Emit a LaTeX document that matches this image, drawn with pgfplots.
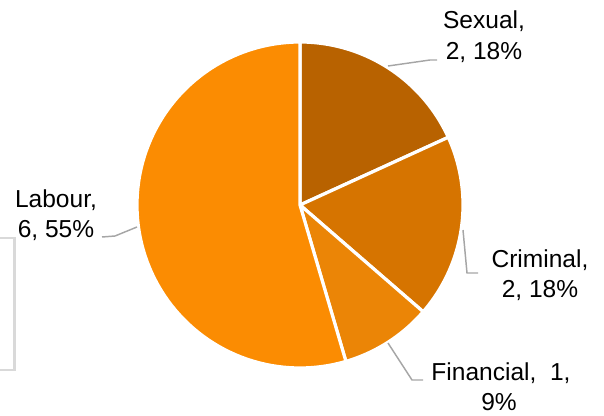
\documentclass[border=0pt]{standalone}
\usepackage{pgfplots}
\pgfplotsset{compat=1.18}
\usepackage{fontspec}
\setmainfont{Liberation Sans}
\definecolor{cSex}{HTML}{B86200}
\definecolor{cCri}{HTML}{D67400}
\definecolor{cFin}{HTML}{EB8506}
\definecolor{cLab}{HTML}{FB8C02}
\definecolor{lead}{HTML}{A6A6A6}
% data: category values
\def\vSex{2}\def\vCri{2}\def\vFin{1}\def\vLab{6}
\pgfmathsetmacro\tot{\vSex+\vCri+\vFin+\vLab}
\pgfmathsetmacro\aA{90}
\pgfmathsetmacro\aB{\aA-360*\vSex/\tot}
\pgfmathsetmacro\aC{\aB-360*\vCri/\tot}
\pgfmathsetmacro\aD{\aC-360*\vFin/\tot}
\pgfmathsetmacro\aE{\aD-360*\vLab/\tot}
\begin{document}
\begin{tikzpicture}
\begin{axis}[
  scale only axis, width=453pt, height=311.25pt,
  xmin=0, xmax=604, ymin=0, ymax=415,
  hide axis, clip=true,
]
\pgfplotsset{every axis plot/.append style={draw=white, line width=2.4pt, line join=round, samples=90}}
\addplot[fill=cSex, domain=\aB:\aA] ({300+163*cos(x)},{210+163*sin(x)}) -- (axis cs:300,210) -- cycle;
\addplot[fill=cCri, domain=\aC:\aB] ({300+163*cos(x)},{210+163*sin(x)}) -- (axis cs:300,210) -- cycle;
\addplot[fill=cFin, domain=\aD:\aC] ({300+163*cos(x)},{210+163*sin(x)}) -- (axis cs:300,210) -- cycle;
\addplot[fill=cLab, domain=\aE:\aD] ({300+163*cos(x)},{210+163*sin(x)}) -- (axis cs:300,210) -- cycle;
% leader lines
\draw[lead, line width=1.1pt] (axis cs:388,349) -- (axis cs:430,355) -- (axis cs:437,355);
\draw[lead, line width=1.1pt] (axis cs:463,185) -- (axis cs:467,142) -- (axis cs:478,142);
\draw[lead, line width=1.1pt] (axis cs:388,72) -- (axis cs:412,35) -- (axis cs:423,35);
\draw[lead, line width=1.1pt] (axis cs:102,178) -- (axis cs:115,179) -- (axis cs:137,188);
% partial legend box
\draw[color={rgb,255:red,217;green,217;blue,217}, line width=1.9pt] (axis cs:0,177) -- (axis cs:14.5,177) -- (axis cs:14.5,45) -- (axis cs:0,45);
% labels
\tikzset{lab/.style={anchor=base, inner sep=0pt, font=\fontsize{18.4}{22}\selectfont}}
\node[lab] at (axis cs:484,386) {Sexual,};
\node[lab] at (axis cs:484,355) {2, 18\%};
\node[lab] at (axis cs:540,148) {Criminal,};
\node[lab] at (axis cs:540,118) {2, 18\%};
\node[lab] at (axis cs:501,35) {Financial,\ \ 1,};
\node[lab] at (axis cs:499,5) {9\%};
\node[lab] at (axis cs:56,208) {Labour,};
\node[lab] at (axis cs:56,177) {6, 55\%};
\end{axis}
\pgfresetboundingbox
\path (current axis.south west) rectangle (current axis.north east);
\end{tikzpicture}
\end{document}
